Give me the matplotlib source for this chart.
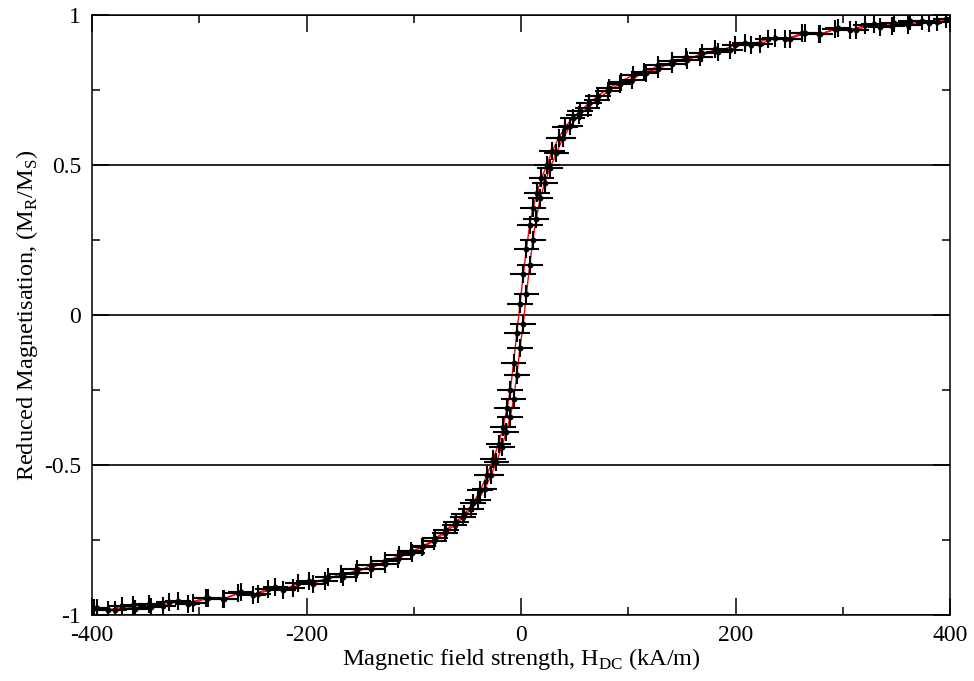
import matplotlib
matplotlib.use("Agg")
import matplotlib.pyplot as plt
from matplotlib.ticker import MultipleLocator

plt.rcParams["font.family"] = ["Liberation Serif", "DejaVu Serif"]
plt.rcParams["axes.unicode_minus"] = False

# Field values (kA/m) and reduced magnetisation, decreasing-field branch
h_down = [400, 388, 374, 361, 348, 335, 321, 307, 293, 279, 265, 251, 237, 223,
          209, 195, 181, 167, 154, 141, 128, 116, 104, 93, 82, 72, 63, 55, 48,
          41, 35, 29, 24, 19, 15, 11, 8, 5, 2, -1, -4, -7, -10, -13, -17, -21,
          -26, -32, -38, -45, -53, -61, -70, -80, -91, -102, -114, -127, -140,
          -154, -168, -183, -198, -213, -229, -245, -261, -277, -294, -311,
          -328, -345, -362, -379, -395]
m_down = [0.986, 0.975, 0.981, 0.966, 0.972, 0.960, 0.966, 0.950, 0.953, 0.936,
          0.940, 0.921, 0.924, 0.903, 0.907, 0.884, 0.886, 0.861, 0.860, 0.836,
          0.833, 0.807, 0.799, 0.778, 0.757, 0.731, 0.705, 0.680, 0.658, 0.625,
          0.590, 0.546, 0.500, 0.455, 0.408, 0.355, 0.300, 0.220, 0.135, 0.035,
          -0.060, -0.160, -0.250, -0.310, -0.375, -0.430, -0.480, -0.535,
          -0.585, -0.628, -0.665, -0.690, -0.717, -0.745, -0.770, -0.792,
          -0.800, -0.829, -0.834, -0.860, -0.862, -0.887, -0.887, -0.910,
          -0.908, -0.930, -0.925, -0.946, -0.942, -0.962, -0.956, -0.974,
          -0.967, -0.983, -0.976]

# Increasing-field branch
h_up = [-398, -385, -372, -360, -347, -334, -320, -306, -292, -278, -264, -250,
        -236, -222, -208, -194, -180, -166, -153, -140, -127, -115, -103, -92,
        -81, -71, -62, -54, -47, -40, -34, -28, -23, -18, -14, -10, -7, -4, -1,
        2, 5, 8, 11, 14, 18, 22, 27, 33, 39, 46, 54, 62, 71, 81, 92, 103, 115,
        128, 141, 155, 169, 184, 199, 214, 230, 246, 262, 278, 295, 312, 329,
        346, 363, 380, 396]
m_up = [-0.978, -0.985, -0.970, -0.979, -0.963, -0.971, -0.955, -0.961, -0.943,
        -0.947, -0.928, -0.932, -0.913, -0.916, -0.895, -0.896, -0.874, -0.872,
        -0.848, -0.846, -0.821, -0.814, -0.787, -0.775, -0.753, -0.726, -0.700,
        -0.675, -0.648, -0.617, -0.580, -0.535, -0.490, -0.440, -0.390, -0.340,
        -0.280, -0.200, -0.110, -0.030, 0.070, 0.165, 0.250, 0.320, 0.390,
        0.440, 0.490, 0.540, 0.590, 0.630, 0.665, 0.690, 0.718, 0.745, 0.770,
        0.783, 0.811, 0.819, 0.846, 0.849, 0.874, 0.877, 0.900, 0.899, 0.921,
        0.919, 0.939, 0.935, 0.955, 0.951, 0.969, 0.963, 0.979, 0.973, 0.987]

# Measurement uncertainties
h_err = 12.0
m_err = 0.03

fig = plt.figure(figsize=(9.74, 6.81), dpi=100)
ax = fig.add_axes([0.0945, 0.097, 0.881, 0.881])

for h, m in ((h_down, m_down), (h_up, m_up)):
    ax.plot(h, m, color="red", lw=1.0, zorder=2)
    ax.errorbar(h, m, xerr=h_err, yerr=m_err, fmt="o", ms=3.2, color="black",
                ecolor="black", elinewidth=1.5, capsize=0, zorder=3)

ax.set_xlim(-400, 400)
ax.set_ylim(-1, 1)
ax.xaxis.set_major_locator(MultipleLocator(200))
ax.xaxis.set_minor_locator(MultipleLocator(100))
ax.yaxis.set_major_locator(MultipleLocator(0.5))
ax.yaxis.set_minor_locator(MultipleLocator(0.25))
ax.yaxis.grid(True, which="major", color="black", lw=1.2)
ax.set_axisbelow(True)

ax.tick_params(which="both", direction="in", top=True, right=True,
               width=1.1, labelsize=17)
ax.tick_params(which="major", length=12)
ax.tick_params(which="minor", length=6)
ax.tick_params(axis="x", which="major", pad=7.5)
ax.tick_params(axis="y", which="major", pad=8)
for s in ax.spines.values():
    s.set_linewidth(1.1)

ax.set_xticks([-400, -200, 0, 200, 400])
ax.set_xticklabels(["-400", "-200", "0", "200", "400"])
ax.set_yticks([-1, -0.5, 0, 0.5, 1])
ax.set_yticklabels(["-1", "-0.5", "0", "0.5", "1"])

ax.set_xlabel(r"Magnetic field strength, H$_\mathregular{DC}$ (kA/m)",
              fontsize=17.5, labelpad=0)
ax.set_ylabel(r"Reduced Magnetisation, (M$_\mathregular{R}$/M$_\mathregular{S}$)",
              fontsize=17.5, labelpad=3)

fig.savefig("out.png", dpi=100)
